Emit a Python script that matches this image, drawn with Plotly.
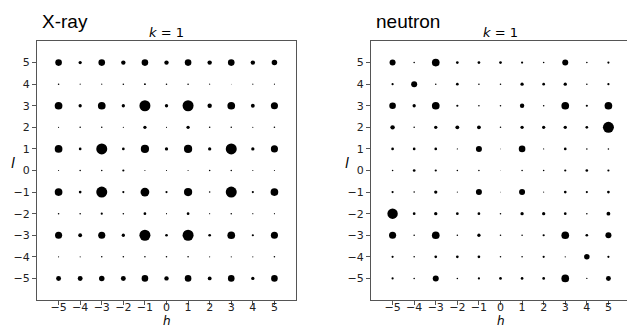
import plotly.graph_objects as go

h_vals = [-5, -4, -3, -2, -1, 0, 1, 2, 3, 4, 5]
l_vals = [5, 4, 3, 2, 1, 0, -1, -2, -3, -4, -5]
tick_vals = [-5, -4, -3, -2, -1, 0, 1, 2, 3, 4, 5]

# Reflection intensities (rows: l = 5 .. -5, columns: h = -5 .. 5)
xray_I = [
    [36, 9, 36, 16, 36, 16, 36, 16, 36, 16, 25],
    [2, 1, 1, 2, 3, 2, 2, 1, 0.3, 1, 1],
    [49, 9, 49, 9, 100, 9, 100, 16, 49, 12, 42],
    [1, 2, 2, 1, 9, 1, 9, 2, 2, 1, 2],
    [49, 6, 100, 6, 56, 9, 56, 9, 100, 9, 42],
    [1, 2, 2, 4, 1, 1, 1, 2, 2, 1, 1],
    [49, 6, 100, 4, 64, 4, 56, 2, 100, 4, 49],
    [2, 2, 4, 2, 6, 1, 6, 1, 2, 1, 1],
    [42, 12, 42, 9, 100, 6, 100, 6, 49, 4, 42],
    [1, 1, 2, 2, 2, 2, 2, 1, 1, 1, 2],
    [20, 20, 25, 20, 36, 16, 36, 12, 36, 9, 36],
]

neutron_I = [
    [30, 2, 49, 6, 6, 6, 4, 2, 30, 2, 4],
    [4, 30, 2, 6, 2, 2, 9, 6, 9, 2, 4],
    [36, 9, 49, 4, 2, 2, 16, 2, 49, 4, 49],
    [16, 2, 9, 12, 12, 2, 9, 9, 9, 6, 100],
    [6, 6, 6, 1, 30, 0.6, 36, 1, 6, 2, 2],
    [2, 6, 4, 2, 2, 0.3, 2, 2, 4, 6, 4],
    [4, 2, 9, 1, 30, 0.6, 30, 1, 6, 4, 6],
    [90, 6, 9, 6, 6, 2, 9, 9, 6, 2, 12],
    [42, 2, 49, 2, 9, 2, 2, 4, 49, 6, 30],
    [4, 2, 6, 6, 6, 2, 2, 4, 1.4, 25, 4],
    [4, 2, 30, 2, 4, 6, 6, 6, 49, 1.4, 20],
]

W, H = 627, 329
left_px = (37, 296)
right_px = (371, 630)
top_px, bot_px = 41, 300
SIZE_SCALE = 1.1


def px_x(p):
    return p / W


def px_y(p):
    return 1 - p / H


fig = go.Figure()


def add_panel(I, xa, ya):
    xs, ys, ss = [], [], []
    for i, l in enumerate(l_vals):
        for j, hh in enumerate(h_vals):
            xs.append(hh)
            ys.append(l)
            ss.append(SIZE_SCALE * I[i][j] ** 0.5)
    fig.add_trace(go.Scatter(
        x=xs, y=ys, mode="markers", xaxis=xa, yaxis=ya,
        marker=dict(size=ss, color="black", opacity=1, line=dict(width=0)),
        showlegend=False, hoverinfo="skip"))


add_panel(xray_I, "x", "y")
add_panel(neutron_I, "x2", "y2")

ax_common = dict(
    showgrid=False, zeroline=False, showline=True, linecolor="#555", linewidth=1,
    ticks="outside", ticklen=4, tickcolor="#555", tickwidth=1,
    tickvals=tick_vals, tickfont=dict(family="DejaVu Sans", size=11, color="#222"),
)

ppu = (left_px[1] - left_px[0]) / 12.0
right_end = -6 + (W - right_px[0]) / ppu

fig.update_layout(
    width=W, height=H, margin=dict(l=0, r=0, t=0, b=0),
    paper_bgcolor="white", plot_bgcolor="white",
    xaxis=dict(ax_common, domain=[px_x(left_px[0]), px_x(left_px[1])], range=[-6, 6],
               mirror=True, anchor="y", ticklabelstandoff=-7),
    yaxis=dict(ax_common, domain=[px_y(bot_px), px_y(top_px)], range=[-6, 6],
               mirror=True, anchor="x"),
    xaxis2=dict(ax_common, domain=[px_x(right_px[0]), 1.0], range=[-6, right_end],
                mirror=True, anchor="y2", ticklabelstandoff=-7),
    yaxis2=dict(ax_common, domain=[px_y(bot_px), px_y(top_px)], range=[-6, 6],
                mirror=False, anchor="x2"),
)

annotations = []
for (x0, x1), name, ylab_x in [(left_px, "X-ray", 13), (right_px, "neutron", 347)]:
    cx = (x0 + x1) / 2
    annotations.append(dict(x=px_x(cx), y=px_y(33), xref="paper", yref="paper",
                            text="<i>k</i> = 1", showarrow=False, xanchor="center", yanchor="middle",
                            font=dict(family="DejaVu Sans", size=13, color="black")))
    annotations.append(dict(x=px_x(x0 + 3), y=px_y(22), xref="paper", yref="paper",
                            text=name, showarrow=False, xanchor="left", yanchor="middle",
                            font=dict(family="Liberation Sans", size=19, color="black")))
    annotations.append(dict(x=px_x(cx), y=0, xref="paper", yref="paper",
                            text="<i>h</i>", showarrow=False, xanchor="center", yanchor="bottom",
                            borderpad=0,
                            font=dict(family="DejaVu Sans", size=12, color="black")))
    annotations.append(dict(x=px_x(ylab_x), y=px_y(163), xref="paper", yref="paper",
                            text="<i>l</i>", showarrow=False, xanchor="center", yanchor="middle",
                            font=dict(family="DejaVu Sans", size=14, color="black")))
fig.update_layout(annotations=annotations)

fig.write_html("out.html")
